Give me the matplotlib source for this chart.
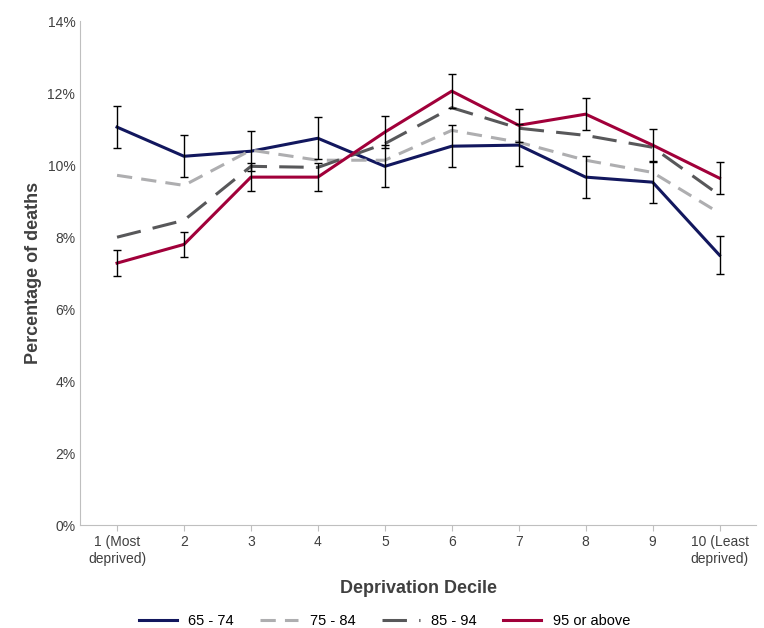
import matplotlib.pyplot as plt
from matplotlib.lines import Line2D
import numpy as np

plt.rcParams['font.family'] = ['Liberation Sans', 'DejaVu Sans']

deciles = ['1 (Most\ndeprived)', '2', '3', '4', '5', '6', '7', '8', '9', '10 (Least\ndeprived)']
age_65_74 = [11.06, 10.25, 10.39, 10.75, 9.97, 10.53, 10.56, 9.67, 9.53, 7.50]
err_65_74 = [0.58, 0.58, 0.56, 0.58, 0.58, 0.58, 0.58, 0.58, 0.58, 0.53]
age_75_84 = [9.72, 9.44, 10.42, 10.14, 10.14, 10.97, 10.64, 10.14, 9.80, 8.67]
age_85_94 = [8.00, 8.47, 9.97, 9.94, 10.60, 11.60, 11.03, 10.83, 10.50, 9.17]
age_95_up = [7.28, 7.80, 9.67, 9.67, 10.92, 12.06, 11.11, 11.42, 10.56, 9.64]
err_95_up = [0.37, 0.35, 0.39, 0.39, 0.45, 0.47, 0.45, 0.44, 0.46, 0.45]

x = np.arange(len(deciles))
fig = plt.figure(figsize=(7.64, 6.28), dpi=100)
ax = fig.add_axes([0.105, 0.164, 0.885, 0.802])

styles = [('65 - 74', '#12175e', '-'), ('75 - 84', '#aeaeb0', (0, (5, 3))),
          ('85 - 94', '#58585a', (0, (8, 4))), ('95 or above', '#a1003a', '-')]
series = [age_65_74, age_75_84, age_85_94, age_95_up]
errs = {0: err_65_74, 3: err_95_up}
for i, ((lab, col, ls), vals) in enumerate(zip(styles, series)):
    ax.plot(x, vals, color=col, lw=2.2, ls=ls, zorder=2)
    if i in errs:
        ax.errorbar(x, vals, yerr=errs[i], fmt='none', capsize=3,
                    ecolor='black', elinewidth=1, zorder=3)

ax.set_ylim(0, 14)
ax.set_xlim(-0.55, 9.55)
ax.set_yticks(range(0, 15, 2))
ax.set_yticklabels([f'{v}%' for v in range(0, 15, 2)], fontsize=10, color='#404040')
ax.set_xticks(x)
ax.set_xticklabels(deciles, fontsize=10, color='#404040')
ax.tick_params(axis='y', length=0)
ax.tick_params(axis='x', length=4, color='#bfbfbf')
for s in ['top', 'right']:
    ax.spines[s].set_visible(False)
for s in ['left', 'bottom']:
    ax.spines[s].set_color('#bfbfbf')
ax.set_ylabel('Percentage of deaths', fontsize=13, fontweight='bold', color='#404040')
ax.set_xlabel('Deprivation Decile', fontsize=13, fontweight='bold', color='#404040', labelpad=10)
handles = [Line2D([], [], color=c, lw=2.2, ls=ls) for _, c, ls in styles]
ax.legend(handles, [s[0] for s in styles], loc='upper center', bbox_to_anchor=(0.45, -0.15),
          ncol=4, frameon=False, fontsize=10.5, handlelength=2.6, columnspacing=1.8)

fig.savefig('out.png')
